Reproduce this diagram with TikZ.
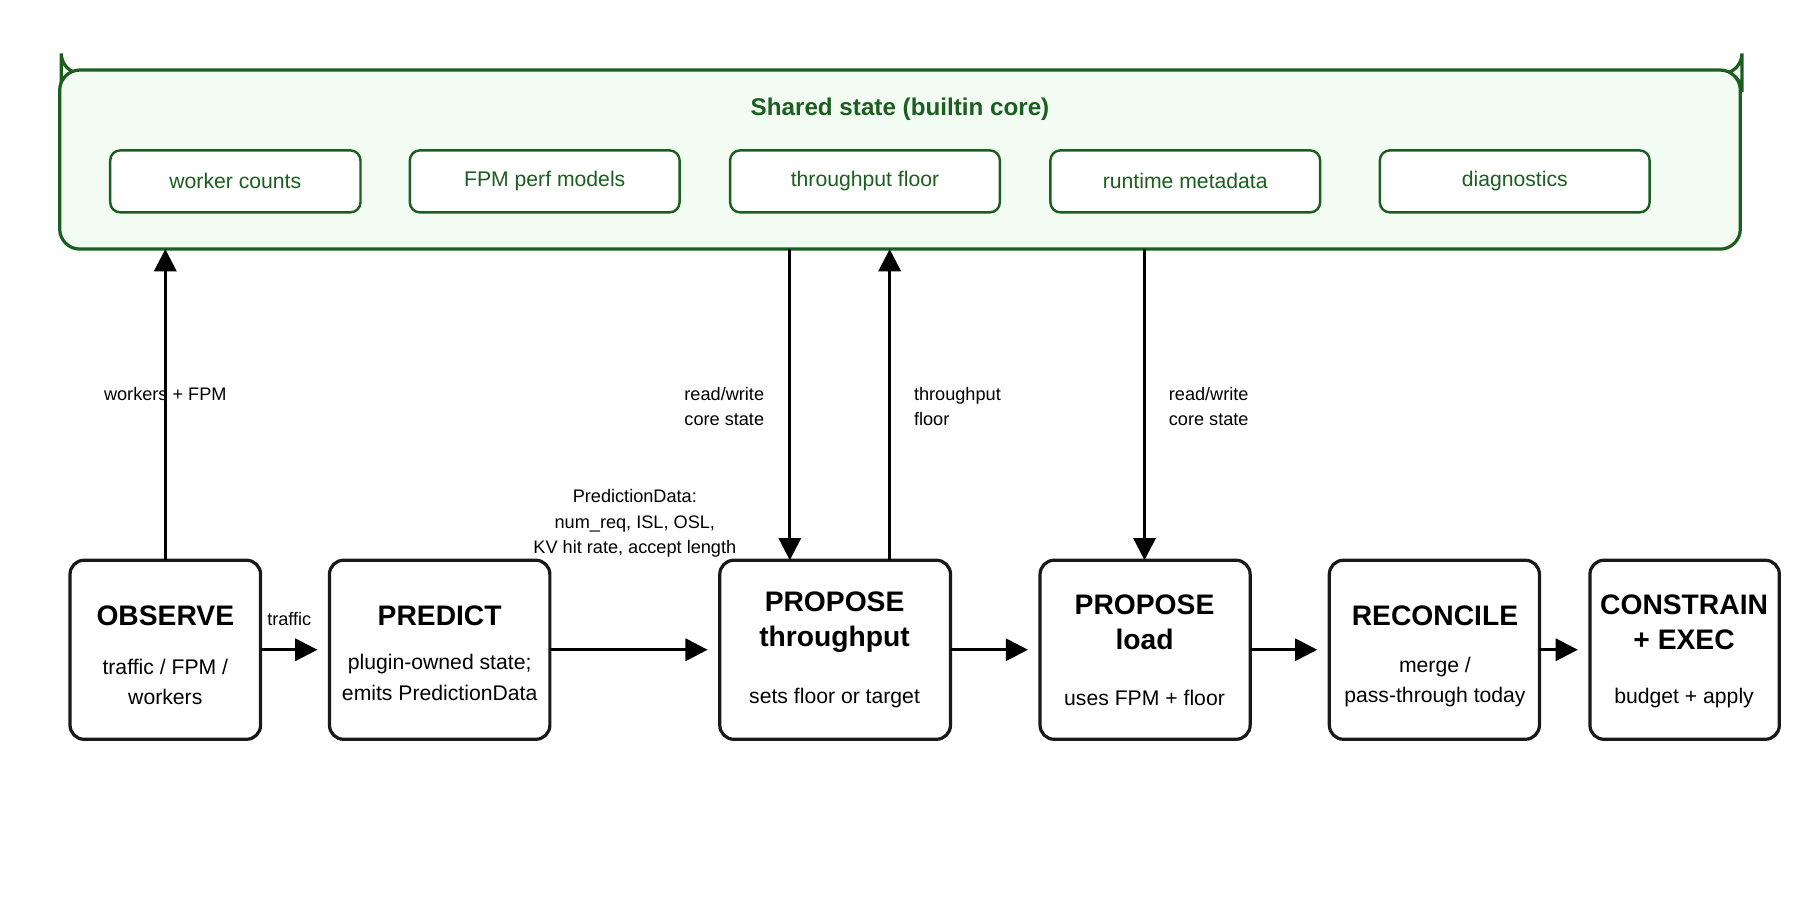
\documentclass[tikz,border=0pt]{standalone}
\usepackage{fontspec}
\setmainfont{Liberation Sans}
\usetikzlibrary{arrows.meta}
\definecolor{dg}{HTML}{1B5E20}
\definecolor{lg}{HTML}{F3FCF3}
\begin{document}
\begin{tikzpicture}[x=0.02cm,y=-0.02cm,
  inner/.style={draw=dg,line width=1.2pt,rounded corners=5pt,text=dg,font=\fontsize{10.5pt}{12pt}\selectfont,fill=white},
  stage/.style={draw=black!90,line width=1.6pt,rounded corners=7pt,fill=white,align=center},
  arr/.style={line width=1.4pt,-{Triangle[length=11pt,width=11pt]}},
  lab/.style={font=\fontsize{9pt}{12.5pt}\selectfont,align=left},
  ttl/.style={font=\bfseries\fontsize{14pt}{17pt}\selectfont}]
\useasboundingbox (0,0) rectangle (1568,784);
\node[draw=dg,line width=1.6pt,rounded corners=10pt,fill=lg,minimum width=1464\pgflinewidth/1.6pt*0.02cm,inner sep=0,anchor=north west] (sh) at (52,61) {};
\path[draw=dg,line width=1.6pt,rounded corners=10pt,fill=lg] (52,61) rectangle (1516,217);
\coordinate (shb) at (0,217);
\node[text=dg,font=\bfseries\fontsize{12pt}{14pt}\selectfont] (t) at (784,95) {Shared state (builtin core)};
\foreach \n/\a/\b/\t in {w/96/314/worker counts,f/357/592/FPM perf models,tf/636/871/throughput floor,rm/915/1150/runtime metadata,dg/1202/1437/diagnostics}{
  \path[inner] (\a,131) rectangle (\b,185);
  \node[text=dg,font=\fontsize{10.5pt}{12pt}\selectfont] (\n) at ({(\a+\b)/2},158) {\t};
}
\foreach \n/\a/\b in {ob/61/227,pr/287/479,pt/627/828,pl/906/1089,rc/1158/1341,ce/1385/1550}{
  \path[stage] (\a,488) rectangle (\b,644);
  \coordinate (\n L) at (\a,566); \coordinate (\n R) at (\b,566);
}
\node[ttl] (obT) at (144,536) {OBSERVE};
\node[align=center,font=\fontsize{10.5pt}{15pt}\selectfont] (obB) at (144,594) {traffic / FPM /\\workers};
\node[ttl] (prT) at (383,536) {PREDICT};
\node[align=center,font=\fontsize{10.5pt}{15pt}\selectfont] (prB) at (383,590) {plugin-owned state;\\emits PredictionData};
\node[ttl,align=center] (ptT) at (727,542) {PROPOSE\\throughput};
\node[font=\fontsize{10.5pt}{15pt}\selectfont] (ptB) at (727,608) {sets floor or target};
\node[ttl,align=center] (plT) at (997,542) {PROPOSE\\load};
\node[font=\fontsize{10.5pt}{15pt}\selectfont] (plB) at (997,608) {uses FPM + floor};
\node[ttl] (rcT) at (1250,536) {RECONCILE};
\node[align=center,font=\fontsize{10.5pt}{15pt}\selectfont] (rcB) at (1250,594) {merge /\\pass-through today};
\node[ttl,align=center] (ceT) at (1467,542) {CONSTRAIN\\+ EXEC};
\node[font=\fontsize{10.5pt}{15pt}\selectfont] (ceB) at (1467,608) {budget + apply};
% vertical
\coordinate (a1) at (144,488); \coordinate (a1e) at (144,217);
\draw[arr] (a1) -- (a1e);
\coordinate (a2) at (688,217); \coordinate (a2e) at (688,488);
\draw[arr] (a2) -- (a2e);
\coordinate (a3) at (775,488); \coordinate (a3e) at (775,217);
\draw[arr] (a3) -- (a3e);
\coordinate (a4) at (997,217); \coordinate (a4e) at (997,488);
\draw[arr] (a4) -- (a4e);
\node[lab] (l1) at (144,343) {workers + FPM};
\node[lab,anchor=west] (l2) at (590,354) {read/write\\core state};
\node[lab,anchor=west] (l3) at (790,354) {throughput\\floor};
\node[lab,anchor=west] (l4) at (1012,354) {read/write\\core state};
% horizontal
\draw[arr] (obR) -- ([xshift=-6]prL);
\draw[arr] (prR) -- ([xshift=-6]ptL);
\draw[arr] (ptR) -- ([xshift=-6]plL);
\draw[arr] (plR) -- ([xshift=-6]rcL);
\draw[arr] (rcR) -- ([xshift=-6]ceL);
\node[lab] (l5) at (252,539) {traffic};
\node[lab,align=center] (l6) at (553,456) {PredictionData:\\num\_req, ISL, OSL,\\KV hit rate, accept length};
\end{tikzpicture}
\end{document}
